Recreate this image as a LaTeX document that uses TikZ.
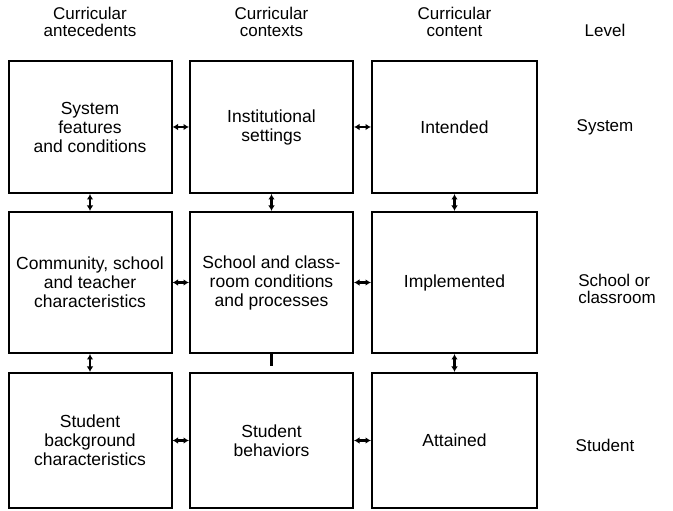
\documentclass[tikz,border=0pt]{standalone}
\usepackage{fontspec}
\setmainfont{Liberation Sans}
\usepackage{tikz}
\usetikzlibrary{positioning}
\usetikzlibrary{arrows.meta}
\tikzset{curbox/.style={draw, line width=2pt, minimum width=163pt, align=center, font=\fontsize{17.5}{19}\selectfont}}
\tikzset{curhead/.style={align=center, font=\fontsize{17}{17}\selectfont}}
\tikzset{curlevel/.style={align=left, font=\fontsize{17}{17.5}\selectfont}}
\tikzset{link/.style={line width=2.2pt, {Latex[length=5.5pt,width=6.5pt]}-{Latex[length=5.5pt,width=6.5pt]}}}

\begin{document}
\begin{tikzpicture}[x=1pt, y=1pt]

\useasboundingbox (0,0) rectangle (673,511);

\node[curhead] (hAnte) at (90, 489) {Curricular\\antecedents};
\node[curhead] (hCtx) at (271.5, 489) {Curricular\\contexts};
\node[curhead] (hCont) at (454.5, 489) {Curricular\\content};
\node[curlevel] (hLevel) at (605, 481) {Level};

\node[curbox, minimum height=132pt] (a1) at (90, 384) {System\\features\\and conditions};
\node[curbox, minimum height=132pt] (b1) at (271.5, 384) {Institutional\\settings};
\node[curbox, minimum height=132pt, minimum width=165pt] (c1) at (454.5, 384) {Intended};

\node[curbox, minimum height=141pt] (a2) at (90, 228.5) {Community, school\\and teacher\\characteristics};
\node[curbox, minimum height=141pt] (b2) at (271.5, 228.5) {School and class-\\room conditions\\and processes};
\node[curbox, minimum height=141pt, minimum width=165pt] (c2) at (454.5, 228.5) {Implemented};

\node[curbox, minimum height=135pt] (a3) at (90, 70.5) {Student\\background\\characteristics};
\node[curbox, minimum height=135pt] (b3) at (271.5, 70.5) {Student\\behaviors};
\node[curbox, minimum height=135pt, minimum width=165pt] (c3) at (454.5, 70.5) {Attained};

\node[curlevel] (lSys) at (605, 384) {System};
\node[curlevel] (lSch) at (617, 222) {School or\\classroom};
\node[curlevel] (lStu) at (605, 66) {Student};

\draw[link] (a1.east) to (b1.west);
\draw[link] (b1.east) to (c1.west);
\draw[link] (a2.east) to (b2.west);
\draw[link] (b2.east) to (c2.west);
\draw[link] (a3.east) to (b3.west);
\draw[link] (b3.east) to (c3.west);

\draw[link] (a1.south) to (a2.north);
\draw[link] (b1.south) to (b2.north);
\draw[link] (c1.south) to (c2.north);
\draw[link] (a2.south) to (a3.north);
\draw[link] (c2.south) to (c3.north);

\coordinate[below=12pt of b2.south] (stub);
\draw[line width=2.2pt] (b2.south) -- (stub);

\end{tikzpicture}
\end{document}
